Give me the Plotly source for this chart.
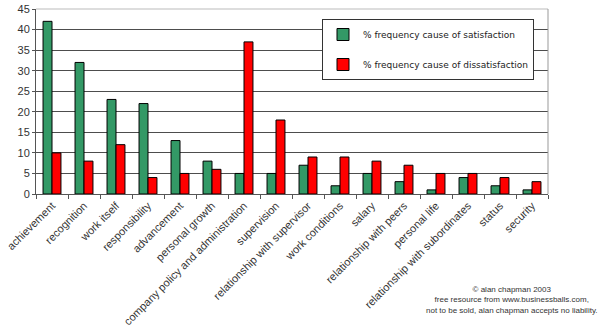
import plotly.graph_objects as go

categories = ["achievement", "recognition", "work itself", "responsibility", "advancement",
              "personal growth", "company policy and administration", "supervision",
              "relationship with supervisor", "work conditions", "salary",
              "relationship with peers", "personal life", "relationship with subordinates",
              "status", "security"]
satisfaction = [42, 32, 23, 22, 13, 8, 5, 5, 7, 2, 5, 3, 1, 4, 2, 1]
dissatisfaction = [10, 8, 12, 4, 5, 6, 37, 18, 9, 9, 8, 7, 5, 5, 4, 3]
y_ticks = [0, 5, 10, 15, 20, 25, 30, 35, 40, 45]
series_names = ["% frequency cause of satisfaction", "% frequency cause of dissatisfaction"]
credit_lines = ["© alan chapman 2003", "free resource from www.businessballs.com,",
                "not to be sold, alan chapman accepts no liability."]

fig = go.Figure()
fig.add_trace(go.Bar(x=categories, y=satisfaction, name=series_names[0], legendgroup="a",
                     marker=dict(color="#339966", line=dict(color="#000000", width=1))))
fig.add_trace(go.Bar(x=categories, y=dissatisfaction, name=series_names[1], legendgroup="b",
                     marker=dict(color="#ff0000", line=dict(color="#000000", width=1))))

fig.update_layout(
    width=600, height=330,
    margin=dict(l=36, r=52, t=9, b=136),
    paper_bgcolor="white", plot_bgcolor="white",
    barmode="group", bargap=0.44, bargroupgap=0.0,
    font=dict(family="Liberation Sans, Arial", size=10, color="#333333"),
    showlegend=True,
    legend=dict(x=(322 - 36) / 512, y=(194 - 19) / 185, xanchor="left", yanchor="top",
                bordercolor="#333333", borderwidth=1, bgcolor="white",
                font=dict(family="DejaVu Sans", size=9, color="#222222"),
                tracegroupgap=11, traceorder="grouped"),
)
fig.update_xaxes(showline=True, linecolor="#555555", linewidth=1, automargin=False,
                 ticks="outside", tickson="boundaries", ticklen=4, tickcolor="#555555",
                 tickangle=-45, tickfont=dict(size=11, color="#333333"), showgrid=False)
fig.update_yaxes(range=[0, 45], tickvals=y_ticks, showline=True, linecolor="#555555",
                 linewidth=1, ticks="outside", ticklen=3, tickcolor="#555555", automargin=False,
                 showgrid=True, gridcolor="#4d4d4d", gridwidth=1, zeroline=False,
                 tickfont=dict(size=11, color="#333333"))
# light frame top/right
fig.add_shape(type="line", xref="paper", yref="paper", x0=0, x1=1, y0=1, y1=1,
              line=dict(color="#bbbbbb", width=1))
fig.add_shape(type="line", xref="paper", yref="paper", x0=1, x1=1, y0=0, y1=1,
              line=dict(color="#999999", width=1))
fig.add_annotation(text="<br>".join(credit_lines), xref="paper", yref="paper",
                   x=(512 - 36) / 512, y=(194 - 283) / 185, xanchor="center", yanchor="top",
                   showarrow=False, align="center",
                   font=dict(family="Liberation Sans", size=8, color="#333333"))
fig.write_html("out.html")
